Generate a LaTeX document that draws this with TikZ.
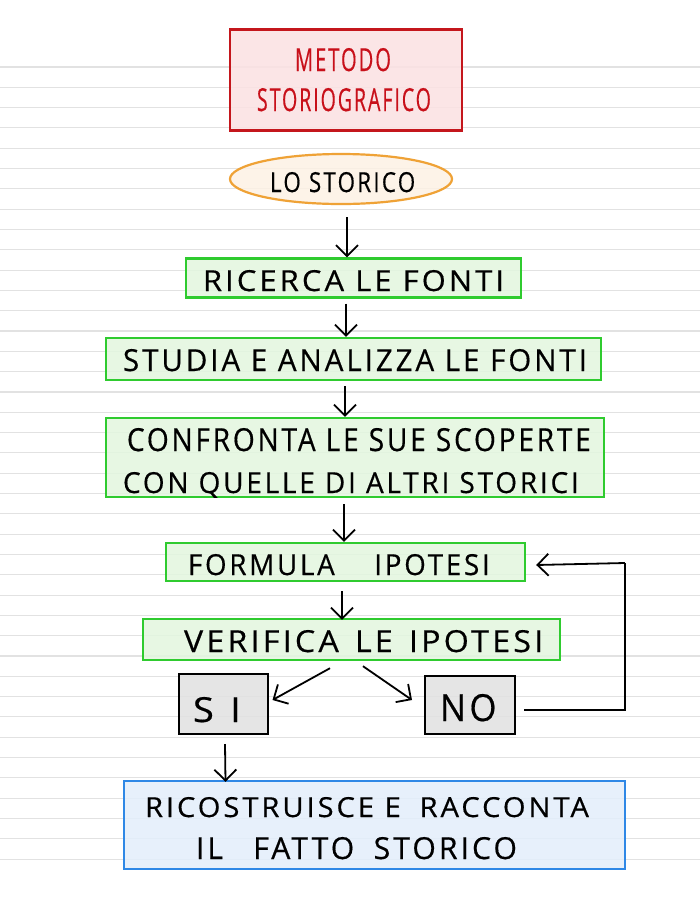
\documentclass[tikz,border=0pt]{standalone}
\usepackage{fontspec}
\setmainfont{Open Sans}
\usetikzlibrary{arrows.meta,shapes.geometric,calc}
\definecolor{paperline}{HTML}{E2E2E2}
\definecolor{titleborder}{HTML}{C4161C}
\definecolor{titlefill}{HTML}{FBE1E2}
\definecolor{titletext}{HTML}{C8101A}
\definecolor{ellborder}{HTML}{EFA236}
\definecolor{ellfill}{HTML}{FDF1E4}
\definecolor{stepborder}{HTML}{2FCB2F}
\definecolor{stepfill}{HTML}{E3F6DF}
\definecolor{endborder}{HTML}{2F88E6}
\definecolor{endfill}{HTML}{E3EEFB}
\definecolor{ansfill}{HTML}{E1E1E1}
% text line resized to a given width and cap height
\newcommand{\handline}[3]{\resizebox{#1}{#2}{#3\kern-0.10em}}
\tikzset{
  boxbase/.style={rectangle, line width=2.4pt, inner sep=0pt, fill opacity=0.85, text opacity=1},
  stepbox/.style={boxbase, draw=stepborder, fill=stepfill},
  titlebox/.style={boxbase, draw=titleborder, fill=titlefill},
  endbox/.style={boxbase, draw=endborder, fill=endfill},
  ansbox/.style={boxbase, draw=black, line width=2pt, fill=ansfill},
  ellbox/.style={ellipse, line width=2.2pt, draw=ellborder, fill=ellfill, fill opacity=0.85, inner sep=0pt},
  hand/.style={anchor=base, inner sep=0pt, text=black, font=\fontsize{28}{34}\selectfont\addfontfeatures{LetterSpace=10,FakeBold=0.5}},
  titlehand/.style={hand, text=titletext},
  arr/.style={line width=1.8pt, -{Straight Barb[length=11pt,width=22pt,line width=1.8pt]}},
  conn/.style={line width=1.8pt}
}
\begin{document}
\begin{tikzpicture}[x=1pt,y=-1pt]
\useasboundingbox (0,0) rectangle (700,906);
\fill[white] (0,0) rectangle (700,906);
% ruled paper
\foreach \i in {0,...,39}{
  \draw[paperline, line width=1.1pt] (0,{67+\i*20.31}) -- (700,{67+\i*20.31});
}
% boxes
\node[titlebox, minimum width=232pt, minimum height=101pt] (title) at (346,80) {};
\node[ellbox, minimum width=222pt, minimum height=50pt] (ell) at (341,179) {};
\node[stepbox, minimum width=335pt, minimum height=39pt] (ric) at (353.5,278) {};
\node[stepbox, minimum width=495pt, minimum height=42pt] (stu) at (353.5,359) {};
\node[stepbox, minimum width=498pt, minimum height=79pt] (con) at (355,457.5) {};
\node[stepbox, minimum width=359pt, minimum height=38pt] (for) at (345.5,562) {};
\node[stepbox, minimum width=417pt, minimum height=41pt] (ver) at (351.5,639.5) {};
\node[ansbox, minimum width=89pt, minimum height=60pt] (si) at (223,704) {};
\node[ansbox, minimum width=90pt, minimum height=58pt] (no) at (470,705) {};
\node[endbox, minimum width=501pt, minimum height=88pt] (fin) at (374.5,825) {};
% texts
\node[titlehand] (t1) at (342,71) {\handline{94pt}{23pt}{METODO}};
\node[titlehand] (t2) at (343,111) {\handline{172pt}{23pt}{STORIOGRAFICO}};
\node[hand] (t3) at (341.5,192) {\handline{143pt}{20pt}{LO STORICO}};
\node[hand] (t4) at (352,291) {\handline{298pt}{21pt}{RICERCA LE FONTI}};
\node[hand] (t5) at (353.5,371) {\handline{461pt}{22pt}{STUDIA E ANALIZZA LE FONTI}};
\node[hand] (t6) at (357.5,451) {\handline{461pt}{23pt}{CONFRONTA LE SUE SCOPERTE}};
\node[hand] (t7) at (349.5,493) {\handline{453pt}{21pt}{CON QUELLE DI ALTRI STORICI}};
\node[hand] (t8) at (337.5,575) {\handline{299pt}{21pt}{FORMULA\hspace{40pt}IPOTESI}};
\node[hand] (t9) at (362,652) {\handline{356pt}{22pt}{VERIFICA\hspace{14pt}LE\hspace{14pt}IPOTESI}};
\node[hand] (t10) at (215,722) {\handline{44pt}{25pt}{S\hspace{12pt}I}};
\node[hand] (t11) at (466.5,721) {\handline{53pt}{27pt}{NO}};
\node[hand] (t12) at (365.5,817) {\handline{441pt}{20pt}{RICOSTRUISCE E\hspace{18pt}RACCONTA}};
\node[hand] (t13) at (355,859) {\handline{318pt}{22pt}{IL\hspace{28pt}FATTO\hspace{18pt}STORICO}};
% connectors
\draw[arr] ([xshift=6pt,yshift=-12pt]ell.south) -- ([xshift=-6.5pt]ric.north);
\draw[arr] ([xshift=-7.5pt,yshift=-5pt]ric.south) -- ([xshift=-7.5pt]stu.north);
\draw[arr] ([xshift=-8.5pt,yshift=-5pt]stu.south) -- ([xshift=-10pt]con.north);
\draw[arr] ([xshift=-11pt,yshift=-6pt]con.south) -- ([xshift=-1.5pt]for.north);
\draw[arr] ([xshift=-3.5pt,yshift=-9pt]for.south) -- ([xshift=-9.5pt,yshift=-2pt]ver.north);
\draw[arr] ([xshift=-21.5pt,yshift=-7pt]ver.south) -- ([xshift=4pt,yshift=4pt]si.east);
\draw[arr] ([xshift=11.5pt,yshift=-5pt]ver.south) -- ([xshift=-12pt,yshift=5pt]no.west);
\coordinate (fbk1) at (625,710);
\coordinate (fbk2) at (625,563);
\draw[conn] ([xshift=8pt,yshift=-5pt]no.east) -- (fbk1) -- (fbk2);
\draw[arr] (fbk2) -- ([xshift=10pt,yshift=-3pt]for.east);
\draw[arr] ([xshift=2pt,yshift=-9pt]si.south) -- ([xshift=-149pt,yshift=-2pt]fin.north);
\end{tikzpicture}
\end{document}
